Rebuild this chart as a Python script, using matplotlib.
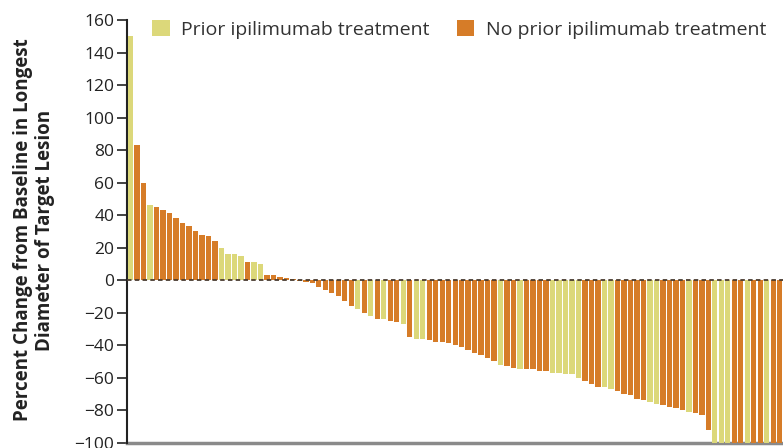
import matplotlib
matplotlib.use("Agg")
import matplotlib.pyplot as plt
from matplotlib.patches import Patch

# Percent change per patient (sorted waterfall), and group (Y = prior ipilimumab, O = no prior)
values = [150, 83, 60, 46, 45, 43, 41, 38, 35, 33,
          30, 28, 27, 24, 20, 16, 16, 15, 11, 11,
          10, 3, 3, 2, 1, 0.5, -0.5, -1, -2, -4,
          -6, -8, -10, -13, -16, -18, -20, -22, -24, -24,
          -25, -26, -27, -35, -36, -36, -37, -38, -38, -39,
          -40, -41, -43, -45, -46, -48, -50, -52, -53, -54,
          -55, -55, -55, -56, -56, -57, -57, -58, -58, -60,
          -62, -64, -66, -66, -67, -68, -70, -71, -73, -74,
          -75, -76, -77, -78, -79, -80, -81, -82, -83, -92,
          -100, -100, -100, -100, -100, -100, -100, -100, -100, -100,
          -100]
groups = list("YOOYOOOOOO"
              "OOOOYYYYOY"
              "YOOOOOOOOO"
              "OOOOOYOYOY"
              "OOYOYYOOOO"
              "OOOOOOOYOO"
              "YOOOOYYYYY"
              "OOOYYOOOOO"
              "YYOOOOYOOO"
              "YYYOOYOOYO"
              "O")
legend_labels = ["Prior ipilimumab treatment", "No prior ipilimumab treatment"]
yticks = list(range(-100, 161, 20))

c_prior = "#DCD87A"
c_noprior = "#D67C28"
colors = [c_prior if g == "Y" else c_noprior for g in groups]

plt.rcParams['font.family'] = ['Open Sans', 'DejaVu Sans']

fig = plt.figure(figsize=(7.83, 4.48), dpi=100)
ax = fig.add_axes([127/783, 5.5/448, 1 - 127/783, (442.5 - 20)/448])

x = list(range(len(values)))
ax.bar(x, values, width=0.82, color=colors, zorder=3, linewidth=0)
ax.axhline(0, color="#4a3c30", linestyle=(0, (2.5, 1.8)), linewidth=1.3, zorder=4)

ax.set_xlim(-0.55, len(values) - 0.5)
ax.set_ylim(-100, 160)
ax.set_yticks(yticks)
ax.set_yticklabels([str(t).replace("-", "\u2212") for t in yticks], fontsize=12.5, color="#222222")
ax.set_xticks([])
ax.tick_params(axis="y", direction="out", length=7, width=1.2, color="#222222", pad=2)

for s in ["top", "right"]:
    ax.spines[s].set_visible(False)
ax.spines["left"].set_linewidth(1.5)
ax.spines["left"].set_color("#222222")
ax.spines["bottom"].set_linewidth(2.5)
ax.spines["bottom"].set_color("#8a8a8a")
ax.spines["bottom"].set_zorder(2)

ax.set_ylabel("Percent Change from Baseline in Longest\nDiameter of Target Lesion",
              fontsize=13.5, fontweight="bold", color="#222222", linespacing=1.15)
ax.yaxis.set_label_coords(-0.11, 0.503)

handles = [Patch(facecolor=c_prior, edgecolor="none"), Patch(facecolor=c_noprior, edgecolor="none")]
fig.legend(handles, legend_labels, loc="upper left", bbox_to_anchor=(152/783, 1 - 20/448),
           ncol=2, frameon=False, fontsize=14, handlelength=0.9, handleheight=0.9,
           handletextpad=0.6, columnspacing=1.4, borderaxespad=0, borderpad=0,
           labelcolor="#333333")

fig.savefig("out.png", dpi=100)
